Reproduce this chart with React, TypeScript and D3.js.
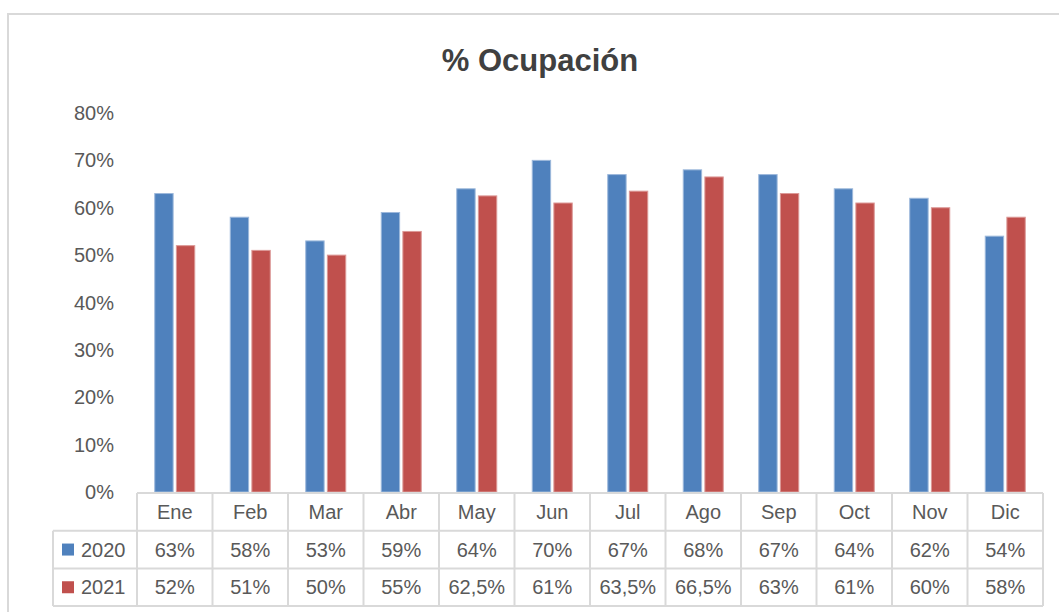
import React, { useEffect, useRef } from "react"
import * as d3 from "d3"

const months = ["Ene", "Feb", "Mar", "Abr", "May", "Jun", "Jul", "Ago", "Sep", "Oct", "Nov", "Dic"]
const series = ["2020", "2021"]
const values2020 = [63, 58, 53, 59, 64, 70, 67, 68, 67, 64, 62, 54]
const values2021 = [52, 51, 50, 55, 62.5, 61, 63.5, 66.5, 63, 61, 60, 58]
const yTicks = [0, 10, 20, 30, 40, 50, 60, 70, 80]
const colors = ["#4F81BD", "#C0504D"]
const strokes = ["#9cb8db", "#dc9896"]

export default function App() {
  const svgRef = useRef(null)

  useEffect(() => {
    const W = 1059, H = 612
    const svg = d3.select(svgRef.current)
    svg.selectAll("*").remove()
    const font = "'Liberation Sans', Arial, sans-serif"
    const textColor = "#595959"
    const gridColor = "#d9d9d9"
    const fs = 20

    // chart frame
    svg.append("rect").attr("x", 8).attr("y", 14).attr("width", W).attr("height", H)
      .attr("fill", "#fff").attr("stroke", gridColor).attr("stroke-width", 2)

    // title
    svg.append("text").attr("x", 540).attr("y", 60).attr("text-anchor", "middle")
      .attr("dominant-baseline", "central").attr("font-family", font).attr("font-weight", "bold")
      .attr("font-size", 31).attr("fill", "#404040").text("% Ocupación")

    const left = 137, right = 1043
    const top = 113, base = 492

    const x = d3.scaleBand().domain(months).range([left, right]).padding(0)
    const y = d3.scaleLinear().domain([0, 80]).range([base, top])
    const groupW = 40
    const xs = d3.scaleBand().domain(series).range([0, groupW]).paddingInner(0.15).paddingOuter(0)

    // y tick labels
    svg.append("g").selectAll("text").data(yTicks).enter().append("text")
      .attr("x", 114).attr("y", d => y(d)).attr("text-anchor", "end")
      .attr("dominant-baseline", "central").attr("font-family", font).attr("font-size", fs)
      .attr("fill", textColor).text(d => d + "%")

    // bars
    const all = [values2020, values2021]
    series.forEach((s, si) => {
      svg.append("g").selectAll("rect").data(all[si]).enter().append("rect")
        .attr("x", (d, i) => x(months[i]) + x.bandwidth() / 2 - groupW / 2 + xs(s))
        .attr("y", d => y(d))
        .attr("width", xs.bandwidth())
        .attr("height", d => base - y(d))
        .attr("fill", colors[si])
        .attr("stroke", strokes[si])
        .attr("stroke-width", 1)
    })

    // data table
    const rowH = 37.7
    const rows = [base + 1, base + 1 + rowH, base + 1 + 2 * rowH, base + 1 + 3 * rowH]
    const labelLeft = 53
    const g = svg.append("g").attr("stroke", gridColor).attr("stroke-width", 2)
    g.append("line").attr("x1", left).attr("x2", right).attr("y1", rows[0]).attr("y2", rows[0])
    for (let r = 1; r < 4; r++) {
      g.append("line").attr("x1", labelLeft).attr("x2", right).attr("y1", rows[r]).attr("y2", rows[r])
    }
    g.append("line").attr("x1", labelLeft).attr("x2", labelLeft).attr("y1", rows[1]).attr("y2", rows[3])
    months.forEach(m => {
      g.append("line").attr("x1", x(m)).attr("x2", x(m)).attr("y1", rows[0]).attr("y2", rows[3])
    })
    g.append("line").attr("x1", right).attr("x2", right).attr("y1", rows[0]).attr("y2", rows[3])

    const fmt = v => String(v).replace(".", ",") + "%"
    svg.append("g").selectAll("text").data(months).enter().append("text")
      .attr("x", d => x(d) + x.bandwidth() / 2).attr("y", (rows[0] + rows[1]) / 2)
      .attr("text-anchor", "middle").attr("dominant-baseline", "central")
      .attr("font-family", font).attr("font-size", fs).attr("fill", textColor).text(d => d)

    series.forEach((s, si) => {
      const cy = (rows[si + 1] + rows[si + 2]) / 2
      svg.append("rect").attr("x", 62).attr("y", cy - 6).attr("width", 12).attr("height", 12)
        .attr("fill", colors[si])
      svg.append("text").attr("x", 81).attr("y", cy).attr("dominant-baseline", "central")
        .attr("font-family", font).attr("font-size", fs).attr("fill", textColor).text(s)
      svg.append("g").selectAll("text").data(all[si]).enter().append("text")
        .attr("x", (d, i) => x(months[i]) + x.bandwidth() / 2).attr("y", cy)
        .attr("text-anchor", "middle").attr("dominant-baseline", "central")
        .attr("font-family", font).attr("font-size", fs).attr("fill", textColor).text(d => fmt(d))
    })
  }, [])

  return (
    <svg ref={svgRef} width={1059} height={612}
      style={{ position: "absolute", left: 0, top: 0, background: "#fff" }} />
  )
}
